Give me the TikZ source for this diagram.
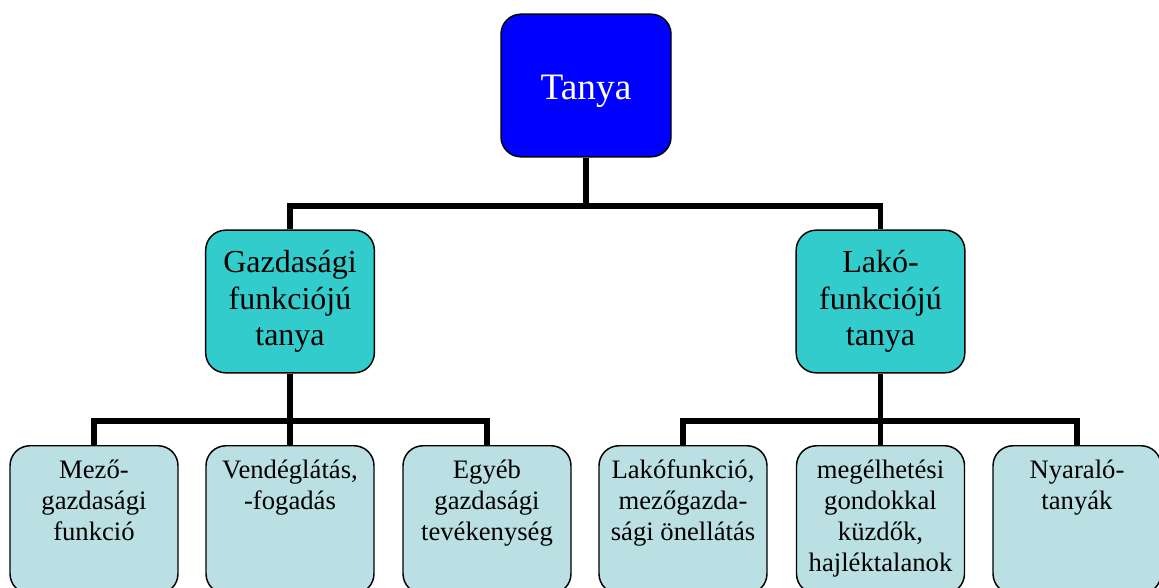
\documentclass[tikz,border=0pt]{standalone}
\usepackage{fontspec}
\setmainfont{Liberation Serif}
\usetikzlibrary{positioning}
\definecolor{rootblue}{RGB}{0,0,255}
\definecolor{midteal}{RGB}{51,204,204}
\definecolor{leafblue}{RGB}{187,224,227}
\tikzset{
  box/.style={draw=black,line width=1.1pt,rounded corners=15pt,inner sep=0pt},
  rootbox/.style={box,fill=rootblue,text=white,minimum width=127.5pt,minimum height=107pt,text height=27.5pt,text depth=6pt,font=\fontsize{28}{32}\selectfont},
  midbox/.style={box,fill=midteal,minimum width=126.5pt,minimum height=107pt,align=center,font=\fontsize{24}{27.5}\selectfont},
  leafbox/.style={box,fill=leafblue,minimum width=126pt,minimum height=111pt,anchor=north},
  leaftext/.style={anchor=north,inner sep=0pt,align=center,font=\fontsize{20}{23.2}\selectfont},
  conn/.style={line width=3.8pt,line join=miter}
}
\begin{document}
\begin{tikzpicture}[x=0.75pt,y=-0.75pt]
\useasboundingbox (0,0) rectangle (1159,588);
% bus points of the tree
\coordinate (rootpos) at (586,85.5);
\coordinate (bus) at (586,206);
\coordinate (gbus) at (290,421);
\coordinate (lbus) at (880,421);
% boxes
\node[rootbox] (root) at (rootpos) {Tanya};
\node[midbox] (gfun) at (290,301.5) {Gazdasági\\funkciójú\\tanya};
\node[midbox] (lfun) at (880.5,301.5) {Lakó-\\funkciójú\\tanya};
\node[leafbox] (g1) at (94,445) {};
\node[leafbox] (g2) at (290,445) {};
\node[leafbox] (g3) at (487,445) {};
\node[leafbox] (l1) at (683,445) {};
\node[leafbox] (l2) at (880.5,445) {};
\node[leafbox] (l3) at (1077,445) {};
% texts of the lower row
\node[leaftext] (g1t) at ([yshift=-8.6pt]g1.north) {\strut Mező-\\gazdasági\\funkció};
\node[leaftext] (g2t) at ([yshift=-8.6pt]g2.north) {\strut Vendéglátás,\\-fogadás};
\node[leaftext] (g3t) at ([yshift=-8.6pt]g3.north) {\strut Egyéb\\gazdasági\\tevékenység};
\node[leaftext] (l1t) at ([yshift=-8.6pt]l1.north) {\strut Lakófunkció,\\mezőgazda-\\sági önellátás};
\node[leaftext] (l2t) at ([yshift=-8.6pt]l2.north) {\strut megélhetési\\gondokkal\\küzdők,\\hajléktalanok};
\node[leaftext] (l3t) at ([yshift=-8.6pt]l3.north) {\strut Nyaraló-\\tanyák};
% tree lines
\draw[conn] (root.south) -- (bus);
\draw[conn] (gfun.north) |- (bus) -| (lfun.north);
\draw[conn] (gfun.south) -- (g2.north);
\draw[conn] (g1.north) |- (gbus) -| (g3.north);
\draw[conn] (lfun.south) -- (l2.north);
\draw[conn] (l1.north) |- (lbus) -| (l3.north);
\end{tikzpicture}
\end{document}
